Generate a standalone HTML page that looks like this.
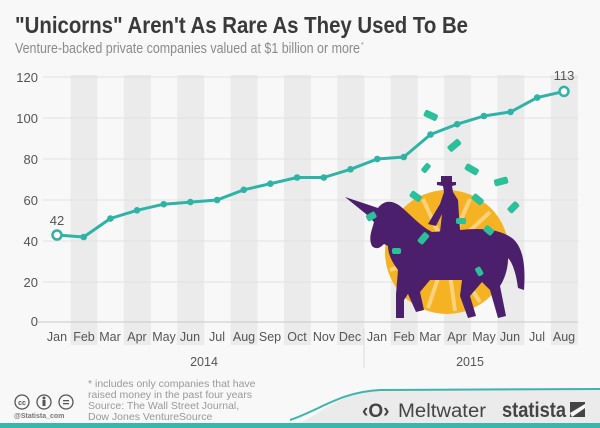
<!DOCTYPE html>
<html><head><meta charset="utf-8"><style>
html,body{margin:0;padding:0;background:#f8f8f8}
svg{display:block}
text{font-family:"Liberation Sans",sans-serif}
</style></head><body>
<svg width="600" height="428" viewBox="0 0 600 428" xmlns="http://www.w3.org/2000/svg">
<rect width="600" height="428" fill="#f8f8f8"/>
<text x="15" y="33" font-size="23" font-weight="bold" fill="#3a3a3a" textLength="453" lengthAdjust="spacingAndGlyphs">"Unicorns" Aren't As Rare As They Used To Be</text>
<text x="15" y="53" font-size="14.5" fill="#8a8a8a" textLength="345" lengthAdjust="spacingAndGlyphs">Venture-backed private companies valued at $1 billion or more</text>
<text x="361" y="47" font-size="7" fill="#8a8a8a">*</text>
<g fill="#ebebeb">
<rect x="70.5" y="75" width="27" height="270"/>
<rect x="123.9" y="75" width="27" height="270"/>
<rect x="177.2" y="75" width="27" height="270"/>
<rect x="230.6" y="75" width="27" height="270"/>
<rect x="284" y="75" width="27" height="270"/>
<rect x="337.3" y="75" width="27" height="270"/>
<rect x="390.7" y="75" width="27" height="270"/>
<rect x="444.1" y="75" width="27" height="270"/>
<rect x="497.4" y="75" width="27" height="270"/>
<rect x="550.8" y="75" width="27" height="270"/>
</g>
<g stroke="#e2e2e2" stroke-width="1">
<line x1="43" y1="77" x2="578" y2="77"/>
<line x1="43" y1="118" x2="578" y2="118"/>
<line x1="43" y1="159" x2="578" y2="159"/>
<line x1="43" y1="200" x2="578" y2="200"/>
<line x1="43" y1="241" x2="578" y2="241"/>
<line x1="43" y1="282" x2="578" y2="282"/>
</g>
<line x1="38" y1="322" x2="578" y2="322" stroke="#c8c8c8"/>
<g font-size="13" fill="#555" text-anchor="end">
<text x="38" y="82">120</text><text x="38" y="123">100</text><text x="38" y="164">80</text>
<text x="38" y="205">60</text><text x="38" y="246">40</text><text x="38" y="287">20</text><text x="38" y="326">0</text>
</g>
<g font-size="12.5" fill="#555" text-anchor="middle">
<text x="57" y="341">Jan</text><text x="84" y="341">Feb</text><text x="110" y="341">Mar</text><text x="137" y="341">Apr</text>
<text x="164" y="341">May</text><text x="190" y="341">Jun</text><text x="217" y="341">Jul</text><text x="244" y="341">Aug</text>
<text x="270" y="341">Sep</text><text x="297" y="341">Oct</text><text x="324" y="341">Nov</text><text x="350" y="341">Dec</text>
<text x="377" y="341">Jan</text><text x="404" y="341">Feb</text><text x="430" y="341">Mar</text><text x="457" y="341">Apr</text>
<text x="484" y="341">May</text><text x="510" y="341">Jun</text><text x="537" y="341">Jul</text><text x="564" y="341">Aug</text>
<text x="204" y="366">2014</text><text x="470" y="366">2015</text>
</g>
<line x1="364" y1="328" x2="364" y2="368" stroke="#ddd"/>
<g>
<circle cx="447" cy="252" r="62" fill="#f5b324"/>
<g stroke="#fbd27a" stroke-width="4">
<line x1="447" y1="252" x2="447" y2="194"/><line x1="447" y1="252" x2="470" y2="199"/><line x1="447" y1="252" x2="490" y2="212"/>
<line x1="447" y1="252" x2="503" y2="235"/><line x1="447" y1="252" x2="505" y2="258"/><line x1="447" y1="252" x2="498" y2="283"/>
<line x1="447" y1="252" x2="480" y2="302"/><line x1="447" y1="252" x2="455" y2="311"/><line x1="447" y1="252" x2="428" y2="308"/>
<line x1="447" y1="252" x2="405" y2="295"/><line x1="447" y1="252" x2="390" y2="270"/><line x1="447" y1="252" x2="390" y2="240"/>
<line x1="447" y1="252" x2="402" y2="213"/><line x1="447" y1="252" x2="423" y2="199"/>
</g>
<path fill="#4b1f6b" d="M345,197 L378,208 C384,200 392,200 400,206 C410,214 420,226 432,232 L460,230 C478,228 498,228 512,238 C522,246 526,262 524,290 L518,288 C516,272 512,262 508,258 C508,270 504,280 500,286 L506,316 L498,318 L490,290 L482,282 L470,296 L476,316 L468,318 L460,296 L462,280 L430,280 L420,292 L424,310 L416,312 L408,294 L404,300 L404,318 L396,318 L396,294 L398,270 C392,262 388,254 388,246 L384,244 C380,248 376,250 372,246 C368,238 372,230 374,222 L366,214 Z"/>
<path fill="#4b1f6b" d="M437,182 L441,182 L441,176 L452,176 L452,182 L456,182 L456,185 L452,186 L453,192 L458,200 L460,230 L456,250 L450,252 L448,236 L440,232 L442,214 L436,226 L428,224 L440,204 L444,192 L443,186 L437,185 Z"/>
<g fill="#2bbf9a">
<rect x="424" y="112" width="14" height="7" rx="2" transform="rotate(25 431 115)"/>
<rect x="447" y="142" width="14" height="7" rx="2" transform="rotate(-40 454 145)"/>
<rect x="421" y="165" width="10" height="6" rx="2" transform="rotate(-50 426 168)"/>
<rect x="465" y="166" width="14" height="7" rx="2" transform="rotate(30 472 169)"/>
<rect x="494" y="178" width="14" height="7" rx="2" transform="rotate(-15 501 181)"/>
<rect x="507" y="204" width="12" height="7" rx="2" transform="rotate(-45 513 207)"/>
<rect x="410" y="193" width="12" height="7" rx="2" transform="rotate(35 416 196)"/>
<rect x="472" y="196" width="12" height="7" rx="2" transform="rotate(40 478 199)"/>
<rect x="366" y="213" width="10" height="7" rx="2" transform="rotate(-30 371 216)"/>
<rect x="456" y="218" width="10" height="6" rx="2"/>
<rect x="484" y="227" width="10" height="7" rx="2" transform="rotate(40 489 230)"/>
<rect x="417" y="235" width="12" height="7" rx="2" transform="rotate(-50 423 238)"/>
<rect x="392" y="248" width="9" height="6" rx="2"/>
<rect x="475" y="268" width="9" height="6" rx="2" transform="rotate(60 479 271)"/>
</g>
</g>
<polyline fill="none" stroke="#2fb3a6" stroke-width="3" stroke-linejoin="round" points="57,235 83.7,237 110.4,218.5 137,210.3 163.7,204.2 190.4,202.1 217.1,200 243.8,189.8 270.4,183.7 297.1,177.5 323.8,177.5 350.5,169.3 377.2,159 403.8,157 430.5,134.5 457.2,124.2 483.9,116 510.6,111.9 537.2,97.6 564,91.4"/>
<g fill="#2fb3a6">
<circle cx="83.7" cy="237" r="3.3"/><circle cx="110.4" cy="218.5" r="3.3"/><circle cx="137" cy="210.3" r="3.3"/>
<circle cx="163.7" cy="204.2" r="3.3"/><circle cx="190.4" cy="202.1" r="3.3"/><circle cx="217.1" cy="200" r="3.3"/>
<circle cx="243.8" cy="189.8" r="3.3"/><circle cx="270.4" cy="183.7" r="3.3"/><circle cx="297.1" cy="177.5" r="3.3"/>
<circle cx="323.8" cy="177.5" r="3.3"/><circle cx="350.5" cy="169.3" r="3.3"/><circle cx="377.2" cy="159" r="3.3"/>
<circle cx="403.8" cy="157" r="3.3"/><circle cx="430.5" cy="134.5" r="3.3"/><circle cx="457.2" cy="124.2" r="3.3"/>
<circle cx="483.9" cy="116" r="3.3"/><circle cx="510.6" cy="111.9" r="3.3"/><circle cx="537.2" cy="97.6" r="3.3"/>
</g>
<circle cx="57" cy="235" r="4.5" fill="#fff" stroke="#2fb3a6" stroke-width="2.5"/>
<circle cx="564" cy="91.4" r="4.5" fill="#fff" stroke="#2fb3a6" stroke-width="2.5"/>
<text x="57" y="225" font-size="13" fill="#555" text-anchor="middle">42</text>
<text x="564" y="80" font-size="13" fill="#555" text-anchor="middle">113</text>
<path d="M290,428 C320,415 340,392 380,390 L600,389 L600,428 Z" fill="#ebebeb"/>
<path d="M290,420 C320,410 340,392 380,390 L600,389" fill="none" stroke="#3bb5ad" stroke-width="2"/>
<rect x="0" y="423" width="600" height="5" fill="#3bb5ad"/>
<g fill="none" stroke="#555" stroke-width="1.3">
<circle cx="22" cy="402" r="7"/><circle cx="44" cy="402" r="7"/><circle cx="66" cy="402" r="7"/>
</g>
<text x="22" y="405" font-size="7" fill="#555" text-anchor="middle" font-weight="bold">cc</text>
<circle cx="44" cy="398" r="1.5" fill="#555"/><rect x="42.5" y="400" width="3" height="6" fill="#555"/>
<rect x="63" y="400" width="6" height="1.3" fill="#555"/><rect x="63" y="403" width="6" height="1.3" fill="#555"/>
<text x="14" y="418" font-size="7" fill="#777" font-weight="bold">@Statista_com</text>
<g font-size="10.5" fill="#999">
<text x="88" y="387">* includes only companies that have</text>
<text x="88" y="398">raised money in the past four years</text>
<text x="88" y="409">Source: The Wall Street Journal,</text>
<text x="88" y="420">Dow Jones VentureSource</text>
</g>
<text x="362" y="417" font-size="19" fill="#444" font-weight="bold">‹O›</text>
<text x="398" y="417" font-size="19" fill="#444" textLength="88" lengthAdjust="spacingAndGlyphs">Meltwater</text>
<text x="502" y="417" font-size="21" fill="#444" font-weight="bold" textLength="64" lengthAdjust="spacingAndGlyphs">statista</text>
<rect x="570" y="402" width="15" height="15" fill="#444"/>
<path d="M570,413 L585,404 L585,408 L572,417 Z" fill="#f8f8f8"/>
</svg>
</body></html>
